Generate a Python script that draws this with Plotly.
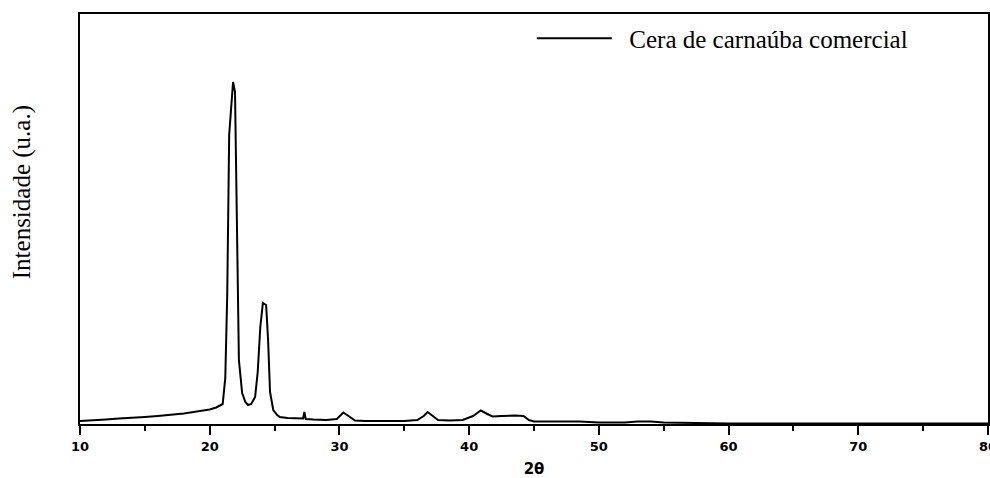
import plotly.graph_objects as go

# X-ray diffraction pattern of commercial carnauba wax
two_theta = [10.0, 11.0, 12.0, 13.0, 14.0, 15.0, 16.0, 17.0, 18.0, 19.0, 20.0, 20.5,
             21.0, 21.2, 21.35, 21.5, 21.65, 21.8, 21.95, 22.1, 22.25, 22.5, 22.75,
             22.95, 23.2, 23.5, 23.7, 23.9, 24.1, 24.35, 24.5, 24.65, 24.9, 25.2,
             25.4, 26.0, 26.5, 27.0, 27.2, 27.3, 27.4, 28.0, 29.0, 29.8, 30.3, 30.7,
             31.2, 32.0, 33.0, 34.0, 35.0, 36.0, 36.5, 36.8, 37.2, 37.6, 38.5, 39.5,
             40.3, 40.9, 41.4, 41.8, 42.5, 43.5, 44.2, 44.6, 45.0, 46.0, 47.5, 48.5,
             50.0, 52.0, 53.0, 54.0, 55.0, 58.0, 60.0, 65.0, 70.0, 75.0, 80.0]
intensity = [30, 35, 45, 55, 60, 70, 80, 90, 105, 125, 145, 165,
             200, 460, 1290, 2890, 3200, 3420, 3320, 1940, 640, 310, 220,
             190, 200, 270, 520, 970, 1210, 1190, 840, 320, 140, 90,
             70, 60, 55, 50, 55, 120, 50, 45, 40, 50, 115, 80,
             35, 30, 30, 30, 30, 40, 80, 120, 80, 40, 35, 40,
             80, 135, 100, 75, 80, 85, 80, 40, 25, 25, 30, 25,
             15, 15, 25, 25, 15, 8, 5, 5, 5, 5, 5]

x_ticks = [10, 20, 30, 40, 50, 60, 70, 80]
series_name = "Cera de carnaúba comercial"
y_title = "Intensidade (u.a.)"

fig = go.Figure()
fig.add_trace(go.Scatter(
    x=two_theta, y=intensity, mode="lines", name="\u2002" + series_name,
    line=dict(color="black", width=2),
))

fig.add_annotation(
    xref="paper", yref="paper", x=-0.064, y=0.565,
    text=y_title, textangle=-90, showarrow=False,
    xanchor="center", yanchor="middle",
    font=dict(family="Liberation Serif", size=25, color="black"),
)

fig.update_layout(
    width=990, height=478,
    margin=dict(l=80, r=2, t=14, b=54),
    paper_bgcolor="white", plot_bgcolor="white",
    showlegend=True,
    legend=dict(
        x=0.4976, y=0.94, xanchor="left", yanchor="middle",
        bgcolor="rgba(0,0,0,0)", itemwidth=75,
        font=dict(family="Liberation Serif", size=25, color="black"),
    ),
    xaxis=dict(
        range=[10, 80], tickmode="array", tickvals=x_ticks,
        ticktext=[str(v) for v in x_ticks],
        ticks="outside", ticklen=9, tickwidth=2, tickcolor="black",
        ticklabeloverflow="allow", automargin=False,
        minor=dict(ticks="outside", ticklen=5, tickwidth=2, tickcolor="black", dtick=5),
        showline=True, linecolor="black", linewidth=2, mirror=True,
        showgrid=False, zeroline=False,
        tickfont=dict(family="DejaVu Sans", size=13, color="black", weight="bold"),
        title=dict(text="<b>2θ</b>", standoff=16,
                   font=dict(family="DejaVu Sans", size=15, color="black")),
    ),
    yaxis=dict(
        range=[0, 4100], showticklabels=False, ticks="", automargin=False,
        showline=True, linecolor="black", linewidth=2, mirror=True,
        showgrid=False, zeroline=False,
    ),
)

fig.write_html("out.html")
